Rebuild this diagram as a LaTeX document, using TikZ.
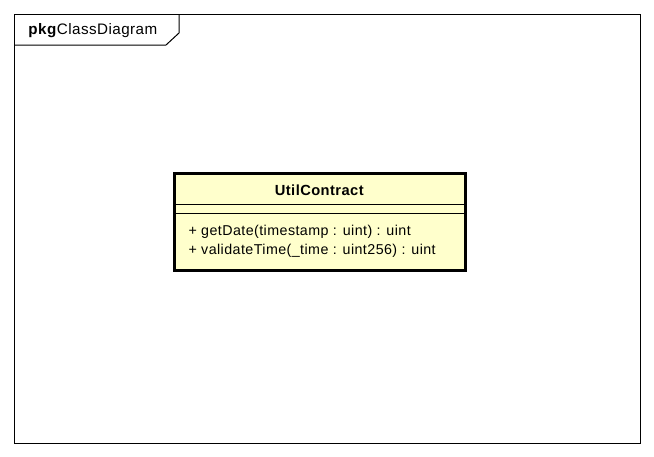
\documentclass[tikz,border=0pt]{standalone}
\usepackage{fontspec}
\setmainfont{Liberation Sans}[LetterSpace=3]
\usepackage{tikz}
\tikzset{every picture/.style={line width=0.75pt}}
\definecolor{classfill}{RGB}{255,255,204}

\begin{document}
\begin{tikzpicture}[x=0.75pt,y=0.75pt,yscale=-1,xscale=1]
\path [use as bounding box] (0,0) rectangle (654,457);

%Shape: Frame
\draw (14,14) -- (640,14) -- (640,443) -- (14,443) -- cycle ;
%Shape: Frame tab
\draw (14,45) -- (166,45) -- (179,33) -- (179,14) ;
% Text Node
\draw (27,31) node (pkgname) [anchor=west][inner sep=0.75pt] [font=\fontsize{11.4}{13}\selectfont] {\textbf{pkg}ClassDiagram};

%Shape: Class box
\draw [fill=classfill, line width=2.25pt] (174,173) rectangle (465,270) ;
%Straight Lines
\draw (174,204) -- (465,204) ;
%Straight Lines
\draw (174,213) -- (465,213) ;
% Text Node
\draw (319.5,190) node (classname) [inner sep=0.75pt] [font=\fontsize{11}{13}\selectfont] {\textbf{UtilContract}};
% Text Node
\draw (187,232) node (getdate) [anchor=west][inner sep=0.75pt] [font=\fontsize{10.7}{13}\selectfont] {+ getDate(timestamp : uint) : uint};
% Text Node
\draw (187,251) node (validatetime) [anchor=west][inner sep=0.75pt] [font=\fontsize{10.7}{13}\selectfont] {+ validateTime(\_time : uint256) : uint};
\end{tikzpicture}
\end{document}
